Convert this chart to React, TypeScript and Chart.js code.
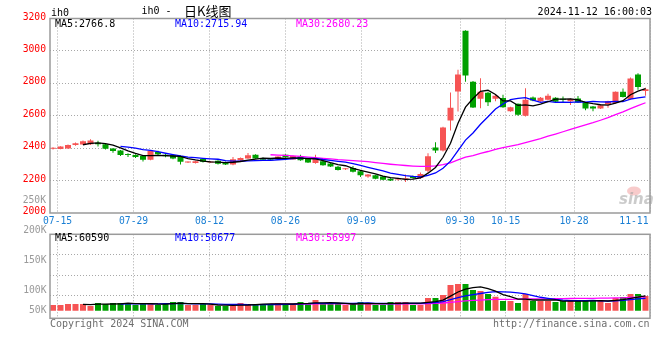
import React, { useEffect, useRef } from "react";
import { Chart, registerables } from "chart.js";

Chart.register(...registerables);

// ---------------- data ----------------
const DATES = [
  "07-12",
  "07-15", "07-16", "07-17", "07-18", "07-19",
  "07-22", "07-23", "07-24", "07-25", "07-26",
  "07-29", "07-30", "07-31", "08-01", "08-02",
  "08-05", "08-06", "08-07", "08-08", "08-09",
  "08-12", "08-13", "08-14", "08-15", "08-16",
  "08-19", "08-20", "08-21", "08-22", "08-23",
  "08-26", "08-27", "08-28", "08-29", "08-30",
  "09-02", "09-03", "09-04", "09-05", "09-06",
  "09-09", "09-10", "09-11", "09-12", "09-13",
  "09-18", "09-19", "09-20",
  "09-23", "09-24", "09-25", "09-26", "09-27",
  "09-30",
  "10-08", "10-09", "10-10", "10-11",
  "10-14", "10-15", "10-16", "10-17", "10-18",
  "10-21", "10-22", "10-23", "10-24", "10-25",
  "10-28", "10-29", "10-30", "10-31", "11-01",
  "11-04", "11-05", "11-06", "11-07", "11-08",
  "11-11",
];

const OPEN = [
  2396, 2395, 2398, 2420, 2422, 2424, 2434, 2424, 2398, 2386,
  2362, 2358, 2352, 2328, 2376, 2360, 2356, 2350, 2312, 2309,
  2335, 2312, 2323, 2315, 2299, 2324, 2337, 2360, 2340, 2330,
  2332, 2360, 2330, 2348, 2336, 2308, 2319, 2306, 2286, 2270,
  2278, 2258, 2225, 2233, 2225, 2212, 2206, 2208, 2229, 2216,
  2261, 2404, 2385, 2570, 2750, 3125, 2810, 2705, 2742, 2705,
  2709, 2628, 2674, 2600, 2713, 2690, 2698, 2711, 2702, 2690,
  2706, 2682, 2657, 2645, 2670, 2678, 2748, 2703, 2855, 2752,
];

const CLOSE = [
  2402, 2410, 2420, 2430, 2443, 2447, 2424, 2396, 2382, 2358,
  2358, 2346, 2328, 2382, 2362, 2350, 2337, 2316, 2315, 2319,
  2316, 2314, 2304, 2299, 2332, 2340, 2357, 2337, 2328, 2326,
  2348, 2344, 2352, 2325, 2311, 2336, 2295, 2287, 2266, 2274,
  2254, 2233, 2237, 2212, 2205, 2201, 2210, 2212, 2216, 2241,
  2350, 2385, 2527, 2650, 2855, 2849, 2651, 2748, 2683, 2723,
  2653, 2653, 2606, 2698, 2694, 2711, 2723, 2686, 2698, 2703,
  2682, 2645, 2645, 2665, 2690, 2748, 2715, 2830, 2777, 2764,
];

const HIGH = [
  2405, 2412, 2422, 2435, 2448, 2455, 2445, 2426, 2400, 2388,
  2368, 2362, 2355, 2386, 2384, 2364, 2360, 2355, 2318, 2322,
  2340, 2318, 2326, 2318, 2345, 2343, 2370, 2362, 2343, 2334,
  2350, 2363, 2354, 2360, 2338, 2360, 2322, 2309, 2290, 2278,
  2290, 2260, 2240, 2236, 2228, 2214, 2218, 2238, 2232, 2250,
  2368, 2436, 2532, 2743, 2884, 3128, 2815, 2832, 2748, 2730,
  2730, 2656, 2676, 2770, 2718, 2715, 2736, 2714, 2718, 2706,
  2722, 2685, 2660, 2668, 2693, 2750, 2768, 2836, 2862, 2773,
];

const LOW = [
  2392, 2393, 2396, 2415, 2420, 2420, 2410, 2392, 2372, 2352,
  2345, 2340, 2318, 2326, 2356, 2344, 2332, 2300, 2308, 2306,
  2312, 2310, 2300, 2296, 2294, 2321, 2335, 2334, 2322, 2322,
  2330, 2341, 2330, 2322, 2308, 2304, 2292, 2284, 2262, 2266,
  2250, 2222, 2218, 2208, 2202, 2198, 2200, 2192, 2212, 2212,
  2250, 2370, 2380, 2509, 2626, 2810, 2648, 2647, 2660, 2690,
  2650, 2625, 2600, 2595, 2690, 2686, 2695, 2683, 2684, 2667,
  2679, 2634, 2628, 2642, 2650, 2675, 2712, 2700, 2760, 2723,
];

const VOLUME = [
  23400, 23500, 27400, 27600, 27500, 19300, 31600, 27400, 31700, 31500,
  31600, 23300, 27500, 31800, 23400, 27600, 35800, 35600, 23300, 23500,
  27400, 23400, 19400, 19200, 19300, 31500, 27500, 27400, 27600, 27500,
  31600, 27500, 23400, 35700, 31600, 43900, 27500, 27400, 27600, 23400,
  31600, 35800, 31500, 23400, 23300, 35700, 35800, 35600, 23400, 23500,
  52000, 52100, 64300, 105300, 109400, 109300, 84800, 80700, 68400, 57400,
  39800, 39900, 31600, 68400, 39800, 39700, 39800, 35700, 39800, 39900,
  39800, 39700, 43900, 44000, 31600, 52000, 56100, 68400, 68300, 60200,
];

const X_TICK_DATES = ["07-15", "07-29", "08-12", "08-26", "09-09", "09-30", "10-15", "10-28", "11-11"];
const PRICE_TICKS = [2000, 2200, 2400, 2600, 2800, 3000, 3200];
const PRICE_EXTRA_TICK = 2071;
const PRICE_EXTRA_LABEL = "250K";
const VOL_GRID_TICKS = [64300, 146300, 228300];
const VOL_AXIS_LABELS = ["200K", "150K", "100K", "50K"];
const MA_PERIODS = [5, 10, 30];
const PRICE_LEGEND = ["MA5:2766.8", "MA10:2715.94", "MA30:2680.23"];
const VOL_LEGEND = ["MA5:60590", "MA10:50677", "MA30:56997"];
const SYMBOL = "ih0";
const TITLE_CN = "日K线图";
const TIMESTAMP = "2024-11-12 16:00:03";
const COPYRIGHT = "Copyright 2024 SINA.COM";
const SITE = "http://finance.sina.com.cn";

// ---------------- styles / layout ----------------
const RED = "#f65454";
const GREEN = "#00a000";
const MA_COLORS = ["#000000", "#0000ff", "#ff00ff"];
const GRID = "#a8a8a8";
const BORDER = "#9a9a9a";
const AXIS_RED = "#ff0000";
const AXIS_GREY = "#9a9a9a";
const DATE_BLUE = "#1a7fd4";
const MONO = '"DejaVu Sans Mono", "Liberation Mono", monospace';
const AXIS_FONT = { family: MONO, size: 9.7 };
const LEGEND_X = [55, 175, 296];
const VOL_LABEL_Y = [230.7, 260.7, 290.7, 310.7];

const N = DATES.length;
const X_MIN = -0.4;
const X_MAX = N - 0.4;
const gridValue = (idx: number) => (idx * N) / (N - 1) - 0.4;
const X_TICK_VALUES = X_TICK_DATES.map((d) => gridValue(DATES.indexOf(d)));

function movingAverage(values: number[], n: number): (number | null)[] {
  return values.map((_, i) => {
    if (i < n - 1) return null;
    let s = 0;
    for (let k = i - n + 1; k <= i; k++) s += values[k];
    return s / n;
  });
}

const UP = CLOSE.map((c, i) => c >= OPEN[i]);
const CANDLE_COLORS = UP.map((u) => (u ? RED : GREEN));

function xScaleOptions() {
  return {
    type: "linear" as const,
    min: X_MIN,
    max: X_MAX,
    offset: false,
    grid: { offset: false, color: GRID, drawTicks: false, lineWidth: 1 },
    border: { display: false, dash: [1, 2] },
    ticks: { display: false },
    afterBuildTicks: (s: any) => {
      s.ticks = X_TICK_VALUES.map((v) => ({ value: v }));
    },
    afterFit: (s: any) => {
      s.height = 0;
      s.paddingLeft = 0;
      s.paddingRight = 0;
    },
  };
}

function maDatasets(values: number[], width: number) {
  return MA_PERIODS.map((p, k) => ({
    type: "line" as const,
    data: movingAverage(values, p).map((v, i) => ({ x: i, y: v })),
    borderColor: MA_COLORS[k],
    borderWidth: width,
    pointRadius: 0,
    tension: 0,
    spanGaps: false,
    order: 0,
  }));
}

const mainDecor = {
  id: "mainDecor",
  afterDraw(chart: any) {
    const { ctx, chartArea: a } = chart;
    ctx.save();
    ctx.strokeStyle = BORDER;
    ctx.lineWidth = 1.5;
    ctx.strokeRect(a.left, a.top, a.right - a.left, a.bottom - a.top);

    ctx.textBaseline = "middle";
    ctx.textAlign = "left";
    ctx.fillStyle = "#000";
    ctx.font = `10px ${MONO}`;
    ctx.fillText(SYMBOL, 51, 13);
    ctx.fillText(SYMBOL + " -", 141.5, 11.5);
    ctx.font = '13px "Noto Sans CJK SC"';
    ctx.fillText(TITLE_CN, 184, 11);
    ctx.font = `10px ${MONO}`;
    ctx.textAlign = "right";
    ctx.fillText(TIMESTAMP, 652, 12);

    ctx.textAlign = "left";
    PRICE_LEGEND.forEach((t, k) => {
      ctx.fillStyle = MA_COLORS[k];
      ctx.fillText(t, LEGEND_X[k], 24);
    });

    // date labels
    const xs = chart.scales.x;
    ctx.font = `${AXIS_FONT.size}px ${MONO}`;
    ctx.fillStyle = DATE_BLUE;
    ctx.textAlign = "center";
    X_TICK_DATES.forEach((d, k) => {
      const px = xs.getPixelForValue(X_TICK_VALUES[k]);
      const w = ctx.measureText(d).width;
      const cx = Math.min(px, a.right - 1.5 - w / 2);
      ctx.fillText(d, cx, 221);
    });

    // sina watermark
    ctx.fillStyle = "rgba(240,140,140,0.45)";
    ctx.beginPath();
    ctx.ellipse(634, 191, 7, 4.5, 0, 0, Math.PI * 2);
    ctx.fill();
    ctx.fillStyle = "rgba(160,160,160,0.55)";
    ctx.font = 'italic bold 15px "DejaVu Sans"';
    ctx.textAlign = "left";
    ctx.fillText("sina", 619, 200);
    ctx.restore();
  },
};

const volDecor = {
  id: "volDecor",
  afterDraw(chart: any) {
    const { ctx, chartArea: a } = chart;
    ctx.save();
    ctx.strokeStyle = BORDER;
    ctx.lineWidth = 1.5;
    ctx.strokeRect(a.left, a.top, a.right - a.left, a.bottom - a.top);
    ctx.textBaseline = "middle";
    ctx.font = `10px ${MONO}`;
    ctx.textAlign = "left";
    VOL_LEGEND.forEach((t, k) => {
      ctx.fillStyle = MA_COLORS[k];
      ctx.fillText(t, LEGEND_X[k], 238.5);
    });
    ctx.font = `${AXIS_FONT.size}px ${MONO}`;
    ctx.fillStyle = AXIS_GREY;
    ctx.textAlign = "right";
    VOL_AXIS_LABELS.forEach((t, k) => ctx.fillText(t, 46.5, VOL_LABEL_Y[k]));
    ctx.font = `10px ${MONO}`;
    ctx.fillStyle = "#6e6e6e";
    ctx.textAlign = "left";
    ctx.fillText(COPYRIGHT, 50, 324);
    ctx.textAlign = "right";
    ctx.fillText(SITE, 649.5, 324);
    ctx.restore();
  },
};

function mainConfig(): any {
  return {
    type: "bar",
    data: {
      datasets: [
        ...maDatasets(CLOSE, 1.3),
        {
          type: "bar",
          data: OPEN.map((o, i) => ({ x: i, y: [Math.min(o, CLOSE[i]), Math.max(o, CLOSE[i])] })),
          backgroundColor: CANDLE_COLORS,
          barThickness: 6,
          minBarLength: 1,
          grouped: false,
          borderWidth: 0,
          inflateAmount: 0,
          order: 1,
        },
        {
          type: "bar",
          data: LOW.map((l, i) => ({ x: i, y: [l, HIGH[i]] })),
          backgroundColor: CANDLE_COLORS,
          barThickness: 1,
          grouped: false,
          borderWidth: 0,
          inflateAmount: 0,
          order: 2,
        },
      ],
    },
    options: {
      responsive: false,
      animation: false,
      events: [],
      layout: { padding: { top: 18.5, left: 0, right: 10, bottom: 147 } },
      plugins: { legend: { display: false }, tooltip: { enabled: false } },
      scales: {
        x: xScaleOptions(),
        y: {
          type: "linear",
          min: 2000,
          max: 3200,
          grid: {
            drawTicks: false,
            lineWidth: 1,
            color: (c: any) => {
              const v = c.tick ? c.tick.value : null;
              return v === 2000 || v === 3200 || v === PRICE_EXTRA_TICK ? "rgba(0,0,0,0)" : GRID;
            },
          },
          border: { display: false, dash: [1, 2] },
          ticks: {
            autoSkip: false,
            padding: 4,
            labelOffset: -1.5,
            font: AXIS_FONT,
            color: (c: any) => (c.tick && c.tick.value === PRICE_EXTRA_TICK ? AXIS_GREY : AXIS_RED),
            callback: (v: any) => (v === PRICE_EXTRA_TICK ? PRICE_EXTRA_LABEL : String(v)),
          },
          afterBuildTicks: (s: any) => {
            s.ticks = [...PRICE_TICKS, PRICE_EXTRA_TICK].sort((p, q) => p - q).map((v) => ({ value: v }));
          },
          afterFit: (s: any) => {
            s.width = 50;
            s.paddingTop = 0;
            s.paddingBottom = 0;
          },
        },
      },
    },
    plugins: [mainDecor],
  };
}

function volConfig(): any {
  return {
    type: "bar",
    data: {
      datasets: [
        ...maDatasets(VOLUME, 1.3),
        {
          type: "bar",
          data: VOLUME.map((v, i) => ({ x: i, y: v })),
          backgroundColor: CANDLE_COLORS,
          barThickness: 6,
          grouped: false,
          borderWidth: 0,
          inflateAmount: 0,
          order: 1,
        },
      ],
    },
    options: {
      responsive: false,
      animation: false,
      events: [],
      layout: { padding: { top: 234.3, left: 0, right: 10, bottom: 41.7 } },
      plugins: { legend: { display: false }, tooltip: { enabled: false } },
      scales: {
        x: xScaleOptions(),
        y: {
          type: "linear",
          min: -31150,
          max: 313100,
          grid: { drawTicks: false, lineWidth: 1, color: GRID },
          border: { display: false, dash: [1, 2] },
          ticks: { display: false },
          afterBuildTicks: (s: any) => {
            s.ticks = VOL_GRID_TICKS.map((v) => ({ value: v }));
          },
          afterFit: (s: any) => {
            s.width = 50;
            s.paddingTop = 0;
            s.paddingBottom = 0;
          },
        },
      },
    },
    plugins: [volDecor],
  };
}

export default function App() {
  const mainRef = useRef<HTMLCanvasElement>(null);
  const volRef = useRef<HTMLCanvasElement>(null);
  useEffect(() => {
    const c1 = new Chart(mainRef.current as HTMLCanvasElement, mainConfig());
    const c2 = new Chart(volRef.current as HTMLCanvasElement, volConfig());
    return () => {
      c1.destroy();
      c2.destroy();
    };
  }, []);
  return (
    <div style={{ position: "fixed", left: 0, top: 0, width: 660, height: 360, background: "#fff" }}>
      <canvas ref={mainRef} width={660} height={360} style={{ position: "absolute", left: 0, top: 0 }} />
      <canvas ref={volRef} width={660} height={360} style={{ position: "absolute", left: 0, top: 0 }} />
    </div>
  );
}
